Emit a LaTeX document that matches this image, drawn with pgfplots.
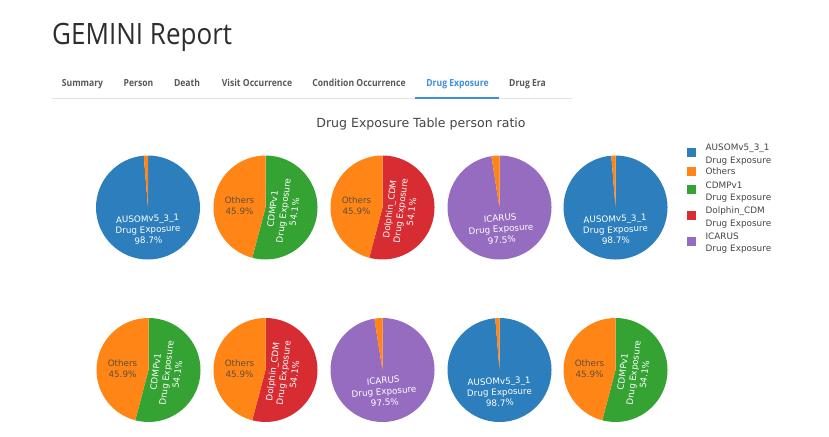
\documentclass[border=0pt]{standalone}
\usepackage{fontspec}
\setmainfont{DejaVu Sans}
\newfontfamily\headfont{Open Sans}[FakeStretch=0.885]
\newfontfamily\tabfont{Open Sans}[FakeStretch=0.88]
\usepackage{pgfplots}
\pgfplotsset{compat=1.18}
\definecolor{pblue}{RGB}{44,126,188}
\definecolor{porange}{RGB}{255,134,22}
\definecolor{pgreen}{RGB}{52,163,52}
\definecolor{pred}{RGB}{214,44,50}
\definecolor{ppurple}{RGB}{150,108,192}
\definecolor{txtgray}{RGB}{68,68,68}
\definecolor{othtxt}{RGB}{95,78,60}
\definecolor{tabgray}{RGB}{88,88,88}
\definecolor{titlegray}{RGB}{45,45,45}
\definecolor{tabblue}{RGB}{62,142,222}
\definecolor{linegray}{RGB}{226,226,226}
\newcommand\piefs{\fontsize{8.8}{11}\selectfont}
% #1 cx, #2 cy, #3 top y, #4 colour, #5 main share (%), #6 Others share (%)
\newcommand\pie[6]{%
  \addplot[fill=#4, draw=none, forget plot] coordinates {(#1,#2) (#1,#3)}
    arc[start angle=90, delta angle={-3.6*#5}, radius=52bp] -- cycle;
  \addplot[fill=porange, draw=none, forget plot] coordinates {(#1,#2) (#1,#3)}
    arc[start angle=90, delta angle={3.6*#6}, radius=52bp] -- cycle;
}
\begin{document}
\begin{tikzpicture}[x=1bp,y=1bp]
\begin{axis}[at={(0,0)}, anchor=north west, scale only axis,
  width=829bp, height=437bp, xmin=0, xmax=829, ymin=0, ymax=437,
  y dir=reverse, hide axis, clip=false,
  legend style={at={(axis cs:687,141)}, anchor=north west, draw=none, fill=none,
    inner sep=0pt, row sep=1.4bp, font=\fontsize{8.9}{12.3}\selectfont, text=txtgray,
    nodes={inner sep=1bp}},
  legend cell align=left]
% row 1
\pie{148}{207.5}{155.5}{pblue}{98.7}{1.3}
\pie{265.5}{207.5}{155.5}{pgreen}{54.1}{45.9}
\pie{382.5}{207.5}{155.5}{pred}{54.1}{45.9}
\pie{499.5}{207.5}{155.5}{ppurple}{97.5}{2.5}
\pie{615.5}{207.5}{155.5}{pblue}{98.7}{1.3}
% row 2
\pie{148.5}{370}{318}{pgreen}{54.1}{45.9}
\pie{265.5}{370}{318}{pred}{54.1}{45.9}
\pie{382.5}{370}{318}{ppurple}{97.5}{2.5}
\pie{499.5}{370}{318}{pblue}{98.7}{1.3}
\pie{615.5}{370}{318}{pgreen}{54.1}{45.9}
% legend
\addlegendimage{legend image code/.code={\fill[pblue] (3bp,-2.5bp) rectangle (11bp,5.5bp); \path (20bp,0bp);}}
\addlegendentry{\begin{tabular}[b]{@{}l@{}}AUSOMv5\_3\_1\\Drug Exposure\end{tabular}}
\addlegendimage{legend image code/.code={\fill[porange] (3bp,-3bp) rectangle (11bp,5bp); \path (20bp,0bp);}}
\addlegendentry{Others}
\addlegendimage{legend image code/.code={\fill[pgreen] (3bp,-2.5bp) rectangle (11bp,5.5bp); \path (20bp,0bp);}}
\addlegendentry{\begin{tabular}[b]{@{}l@{}}CDMPv1\\Drug Exposure\end{tabular}}
\addlegendimage{legend image code/.code={\fill[pred] (3bp,-2.5bp) rectangle (11bp,5.5bp); \path (20bp,0bp);}}
\addlegendentry{\begin{tabular}[b]{@{}l@{}}Dolphin\_CDM\\Drug Exposure\end{tabular}}
\addlegendimage{legend image code/.code={\fill[ppurple] (3bp,-2.5bp) rectangle (11bp,5.5bp); \path (20bp,0bp);}}
\addlegendentry{\begin{tabular}[b]{@{}l@{}}ICARUS\\Drug Exposure\end{tabular}}
% slice labels, row 1
\node[font=\piefs, text=white, align=center, rotate=2.3] at (axis cs:148,229.5) {AUSOMv5\_3\_1\\Drug Exposure\\98.7\%};
\node[font=\piefs, text=othtxt, align=center] at (axis cs:239.5,206) {Others\\45.9\%};
\node[font=\piefs, text=white, align=center, rotate=82.6] at (axis cs:283.5,210.5) {CDMPv1\\Drug Exposure\\54.1\%};
\node[font=\piefs, text=othtxt, align=center] at (axis cs:356.5,206) {Others\\45.9\%};
\node[font=\piefs, text=white, align=center, rotate=82.6] at (axis cs:400.5,210.5) {Dolphin\_CDM\\Drug Exposure\\54.1\%};
\node[font=\piefs, text=white, align=center, rotate=4.5] at (axis cs:501,229) {ICARUS\\Drug Exposure\\97.5\%};
\node[font=\piefs, text=white, align=center, rotate=2.3] at (axis cs:615.5,229.5) {AUSOMv5\_3\_1\\Drug Exposure\\98.7\%};
% slice labels, row 2
\node[font=\piefs, text=othtxt, align=center] at (axis cs:122.5,368.5) {Others\\45.9\%};
\node[font=\piefs, text=white, align=center, rotate=82.6] at (axis cs:166.5,373) {CDMPv1\\Drug Exposure\\54.1\%};
\node[font=\piefs, text=othtxt, align=center] at (axis cs:239.5,368.5) {Others\\45.9\%};
\node[font=\piefs, text=white, align=center, rotate=82.6] at (axis cs:283.5,373) {Dolphin\_CDM\\Drug Exposure\\54.1\%};
\node[font=\piefs, text=white, align=center, rotate=4.5] at (axis cs:384,391.5) {ICARUS\\Drug Exposure\\97.5\%};
\node[font=\piefs, text=white, align=center, rotate=2.3] at (axis cs:499.5,392) {AUSOMv5\_3\_1\\Drug Exposure\\98.7\%};
\node[font=\piefs, text=othtxt, align=center] at (axis cs:589.5,368.5) {Others\\45.9\%};
\node[font=\piefs, text=white, align=center, rotate=82.6] at (axis cs:633.5,373) {CDMPv1\\Drug Exposure\\54.1\%};
\end{axis}
% page header (y measured downward from the top edge)
\node[anchor=base west, inner sep=0pt, font=\headfont\fontsize{29.5}{32}\selectfont, text=titlegray] at (52,-45) {GEMINI Report};
\begin{scope}[every node/.style={anchor=base, inner sep=0pt, font=\tabfont\bfseries\fontsize{9.8}{11}\selectfont, text=tabgray}]
\node at (82.5,-86.5) {Summary};
\node at (138.5,-86.5) {Person};
\node at (187,-86.5) {Death};
\node at (257,-86.5) {Visit Occurrence};
\node at (359,-86.5) {Condition Occurrence};
\node[text=tabblue] at (457.5,-86.5) {Drug Exposure};
\node at (527.5,-86.5) {Drug Era};
\end{scope}
\draw[linegray, line width=0.8bp] (52,-98.5) -- (572,-98.5);
\draw[tabblue, line width=1.6bp] (415,-98.2) -- (499,-98.2);
\node[anchor=base, inner sep=0pt, font=\fontsize{12.6}{14}\selectfont, text=txtgray] at (421,-127.5) {Drug Exposure Table person ratio};
\pgfresetboundingbox
\path[use as bounding box] (0,0) rectangle (829,-437);
\end{tikzpicture}
\end{document}
